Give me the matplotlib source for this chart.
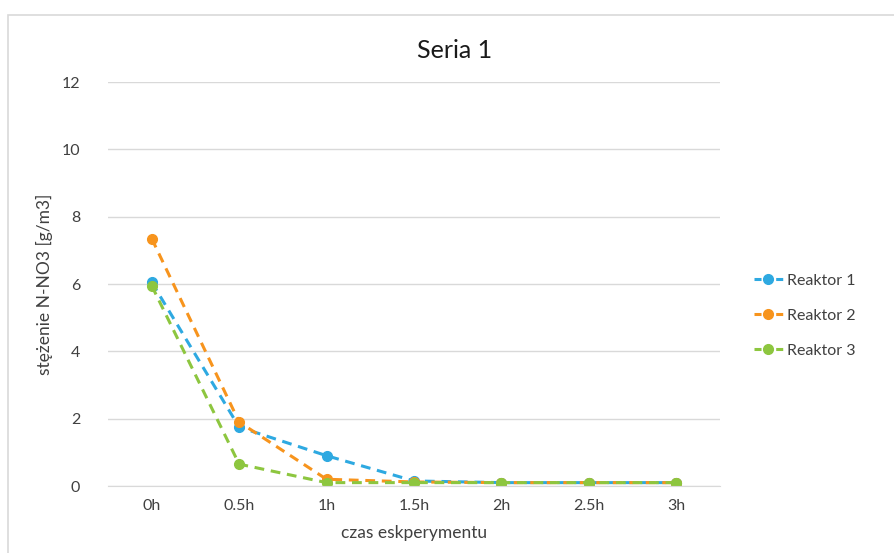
import matplotlib
matplotlib.use("Agg")
import matplotlib.pyplot as plt
from matplotlib.patches import Rectangle
from matplotlib.lines import Line2D
from matplotlib.legend_handler import HandlerTuple

plt.rcParams['font.family'] = ['Lato', 'DejaVu Sans']

categories = ["0h", "0.5h", "1h", "1.5h", "2h", "2.5h", "3h"]
reaktor_1 = [6.05, 1.75, 0.9, 0.15, 0.1, 0.1, 0.1]
reaktor_2 = [7.35, 1.9, 0.2, 0.12, 0.1, 0.1, 0.1]
reaktor_3 = [5.95, 0.65, 0.1, 0.1, 0.1, 0.1, 0.1]
series_names = ["Reaktor 1", "Reaktor 2", "Reaktor 3"]
colors = ["#2ea9e1", "#f7941d", "#8dc63f"]

fig = plt.figure(figsize=(8.94, 5.53), dpi=100)
fig.patch.set_facecolor("white")

# light chart-area frame
fig.patches.append(Rectangle((8 / 894, -0.05), 1.0, 1 - 15 / 553 + 0.05,
                             transform=fig.transFigure, fill=False,
                             edgecolor="#d9d9d9", linewidth=1.2))

ax = fig.add_axes([108 / 894, 67 / 553, 612 / 894, 404 / 553])
x = list(range(len(categories)))
handles = []
for vals, name, c in zip([reaktor_1, reaktor_2, reaktor_3], series_names, colors):
    ax.plot(x, vals, linestyle=(0, (3.2, 2.2)), color=c, linewidth=2.2,
            marker="o", markersize=7, label=name)
    # legend key: dash - marker - dash
    key_line = Line2D([], [], color=c, linewidth=2.2, linestyle=(0, (2.3, 4.8)))
    key_mark = Line2D([], [], color=c, marker="o", markersize=7, linestyle="None")
    handles.append((key_line, key_mark))

ax.set_xlim(-0.5, len(categories) - 0.5)
ax.set_ylim(0, 12)
ax.set_yticks(range(0, 13, 2))
ax.set_xticks(x)
ax.set_xticklabels(categories)
ax.grid(axis="y", color="#d9d9d9", linewidth=1)
ax.set_axisbelow(True)
for s in ["top", "right", "left"]:
    ax.spines[s].set_visible(False)
ax.spines["bottom"].set_color("#d9d9d9")
ax.tick_params(length=0, labelsize=11.5, colors="#404040", pad=9)
ax.tick_params(axis="y", pad=20)

fig.text(455 / 894, 1 - 50 / 553, "Seria 1", fontsize=18, color="#1a1a1a",
         ha="center", va="center")
ax.set_xlabel("czas eskperymentu", fontsize=12.5, color="#404040", labelpad=9)
ax.set_ylabel("stężenie N-NO3 [g/m3]", fontsize=12.5, color="#404040", labelpad=6)

leg = ax.legend(handles, series_names,
                handler_map={tuple: HandlerTuple(ndivide=1, pad=0)},
                loc="center left", bbox_to_anchor=(1.045, 0.421), frameon=False,
                borderaxespad=0, fontsize=11.5, labelspacing=1.3,
                handlelength=1.8, handletextpad=0.3, labelcolor="#404040")

fig.savefig("out.png", dpi=100, facecolor="white")
